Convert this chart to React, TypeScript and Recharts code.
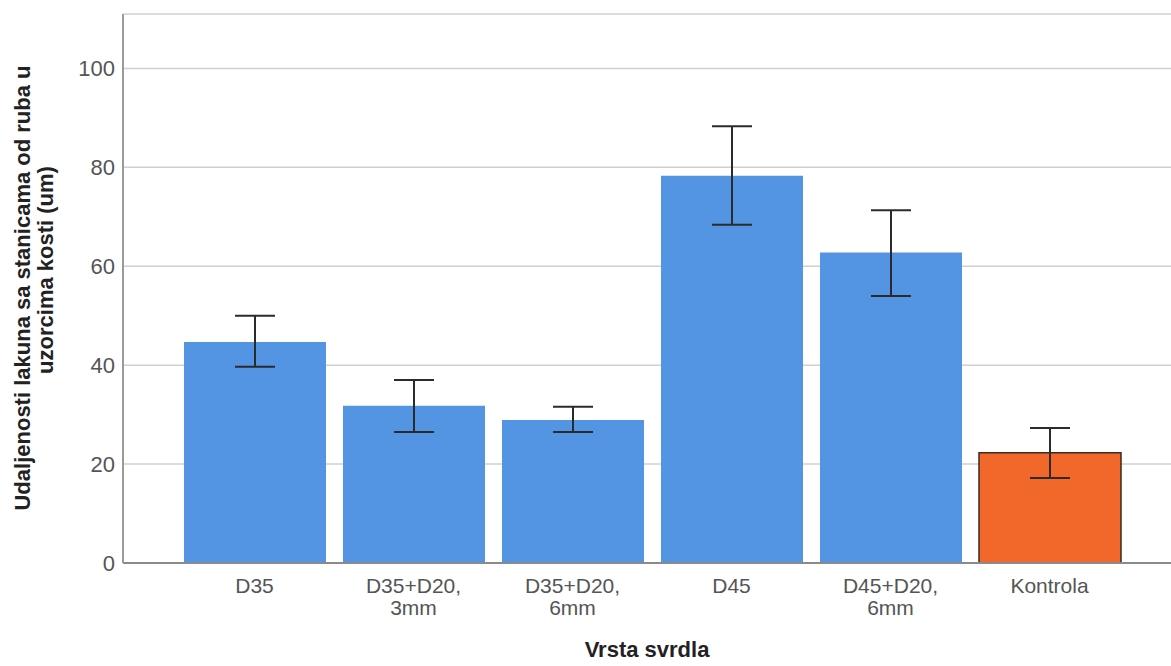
import * as React from "react";
import {
  BarChart,
  Bar,
  Cell,
  XAxis,
  YAxis,
  CartesianGrid,
  ErrorBar,
} from "recharts";

const categories = [
  "D35",
  "D35+D20,\n3mm",
  "D35+D20,\n6mm",
  "D45",
  "D45+D20,\n6mm",
  "Kontrola",
];
const means = [44.7, 31.8, 28.9, 78.3, 62.8, 22.3];
const ciLow = [39.7, 26.5, 26.5, 68.4, 54.0, 17.2];
const ciHigh = [50.0, 37.0, 31.6, 88.3, 71.3, 27.3];
const yTicks = [0, 20, 40, 60, 80, 100];

const BLUE = "#5394e3";
const ORANGE = "#f2682b";
const FONT = "'Liberation Sans', Arial, sans-serif";

const data = categories.map((name, i) => ({
  name,
  mean: means[i],
  err: [means[i] - ciLow[i], ciHigh[i] - means[i]],
}));

function XTick({ x, y, payload }: any) {
  const lines = String(payload.value).split("\n");
  return (
    <text
      x={x}
      y={y}
      textAnchor="middle"
      fill="#555"
      fontSize={21}
      fontFamily={FONT}
    >
      {lines.map((ln, i) => (
        <tspan key={i} x={x} dy={22}>
          {ln}
        </tspan>
      ))}
    </text>
  );
}

// two-line rotated y title, each line centred on its own
function YTitle() {
  const common = {
    textAnchor: "middle" as const,
    fontSize: 22,
    fontWeight: "bold",
    fontFamily: FONT,
    fill: "#222",
  };
  return (
    <g>
      <text transform="translate(30, 288) rotate(-90)" {...common}>
        Udaljenosti lakuna sa stanicama od ruba u
      </text>
      <text transform="translate(53, 270) rotate(-90)" {...common}>
        uzorcima kosti (um)
      </text>
    </g>
  );
}

function XTitle({ viewBox }: any) {
  return (
    <text
      x={viewBox.x + viewBox.width / 2}
      y={viewBox.y + 94}
      textAnchor="middle"
      fontSize={22}
      fontWeight="bold"
      fontFamily={FONT}
      fill="#222"
    >
      Vrsta svrdla
    </text>
  );
}

export default function App() {
  return (
    <div style={{ position: "absolute", left: 0, top: 0, background: "#fff" }}>
      <BarChart
        width={1171}
        height={666}
        data={data}
        margin={{ top: 14, right: 0, bottom: 0, left: 0 }}
        barSize={142}
      >
        <CartesianGrid
          vertical={false}
          stroke="#d0d0d0"
          strokeWidth={1.5}
        />
        <XAxis
          dataKey="name"
          interval={0}
          padding={{ left: 52, right: 42 }}
          tickLine={false}
          stroke="#8a8a8a"
          strokeWidth={2}
          tick={<XTick />}
          label={<XTitle />}
          height={103}
        />
        <YAxis
          width={123}
          domain={[0, 111]}
          ticks={yTicks}
          tickLine={false}
          stroke="#9a9a9a"
          strokeWidth={2}
          tick={{ fontSize: 22, fill: "#555", fontFamily: FONT }}
          label={<YTitle />}
        />
        <Bar dataKey="mean" isAnimationActive={false}>
          {data.map((d, i) => (
            <Cell
              key={i}
              fill={i === data.length - 1 ? ORANGE : BLUE}
              stroke={i === data.length - 1 ? "#3a2a20" : "none"}
              strokeWidth={1.5}
            />
          ))}
          <ErrorBar
            dataKey="err"
            width={20}
            stroke="#2b2b2b"
            strokeWidth={2}
            isAnimationActive={false}
          />
        </Bar>
      </BarChart>
    </div>
  );
}
